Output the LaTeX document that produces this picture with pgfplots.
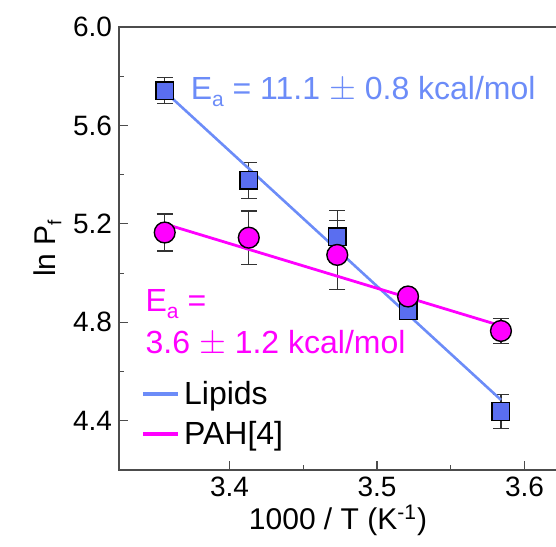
\documentclass[border=0pt]{standalone}
\usepackage{fontspec}
\setmainfont{Liberation Sans}
\usepackage{pgfplots}
\pgfplotsset{compat=1.18}
\usetikzlibrary{calc}

\definecolor{lipline}{RGB}{108,140,248}
\definecolor{lipfill}{RGB}{90,110,240}
\definecolor{pahcol}{RGB}{255,0,255}

\pgfplotstableread{
x      y      ey
3.356  5.741  0.053
3.413  5.377  0.074
3.473  5.148  0.105
3.521  4.847  0.030
3.584  4.438  0.070
}\lipids

\pgfplotstableread{
x      y      ey
3.356  5.165  0.075
3.413  5.144  0.108
3.473  5.074  0.141
3.521  4.905  0.025
3.584  4.765  0.050
}\pah

\begin{document}
\begin{tikzpicture}
\begin{axis}[
    name=ax,
    scale only axis,
    width=219pt, height=221.5pt,
    xmin=3.325, xmax=3.622,
    ymin=4.2, ymax=6.0,
    xtick={3.4,3.5,3.6},
    ytick={4.4,4.8,5.2,5.6,6.0},
    minor x tick num=1,
    minor y tick num=1,
    tick pos=left,
    tick align=inside,
    major tick length=4.5pt,
    minor tick length=2.5pt,
    axis line style={black!70, line width=0.6pt},
    every tick/.style={black!70, line width=0.6pt},
    /pgf/number format/assume math mode=true,
    xticklabel style={/pgf/number format/.cd, fixed, fixed zerofill, precision=1},
    yticklabel style={/pgf/number format/.cd, fixed, fixed zerofill, precision=1},
    tick label style={font=\fontsize{14}{16}\selectfont},
    xlabel={1000 / T (K\textsuperscript{-1})},
    ylabel={ln P\raisebox{-0.35ex}{\fontsize{9.5}{9.5}\selectfont f}},
    label style={font=\fontsize{15}{17}\selectfont},
    xlabel style={yshift=3pt},
    ylabel style={yshift=-1pt},
    legend style={at={(0.035,0.22)}, anchor=north west, draw=none, fill=none,
        font=\fontsize{16}{18}\selectfont, row sep=3pt,
        /tikz/every even column/.append style={column sep=1pt}},
    legend cell align=left,
    legend image code/.code={\draw[#1, line width=2.2pt] (0pt,0pt) -- (17.5pt,0pt);},
    clip=false,
]
\addplot[only marks, mark=square*, mark size=4.4pt, forget plot,
    mark options={fill=lipfill, draw=black, line width=0.7pt},
    error bars/.cd, y dir=both, y explicit,
    error bar style={black!80, line width=0.6pt},
    error mark options={rotate=90, mark size=4pt, black!80, line width=0.6pt}]
    table[x=x, y=y, y error=ey]{\lipids};
\addplot[only marks, mark=*, mark size=5.2pt, forget plot,
    mark options={fill=pahcol, draw=black, line width=0.7pt},
    error bars/.cd, y dir=both, y explicit,
    error bar style={black!80, line width=0.6pt},
    error mark options={rotate=90, mark size=4pt, black!80, line width=0.6pt}]
    table[x=x, y=y, y error=ey]{\pah};
\addplot[lipline, line width=1.3pt, no marks]
    coordinates {(3.356,5.738) (3.584,4.485)};
\addlegendentry{Lipids}
\addplot[pahcol, line width=1.4pt, no marks]
    coordinates {(3.356,5.200) (3.584,4.786)};
\addlegendentry{PAH[4]}

\node[anchor=base west, text=lipline, font=\fontsize{16}{18}\selectfont, inner sep=0pt]
    at (axis cs:3.3734,5.7035) {E\raisebox{-0.4ex}{\fontsize{10.5}{10.5}\selectfont a} = 11.1 $\pm$ 0.8 kcal/mol};
\node[anchor=base west, text=pahcol, font=\fontsize{16}{18}\selectfont, inner sep=0pt]
    at (axis cs:3.3428,4.8439) {E\raisebox{-0.4ex}{\fontsize{10.5}{10.5}\selectfont a} =};
\node[anchor=base west, text=pahcol, font=\fontsize{16}{18}\selectfont, inner sep=0pt]
    at (axis cs:3.3428,4.675) {3.6 $\pm$ 1.2 kcal/mol};
\end{axis}
\pgfresetboundingbox
\path ($(ax.south west)+(-59.5pt,-38pt)$) rectangle ($(ax.north east)+(-0.5pt,13.5pt)$);
\end{tikzpicture}
\end{document}
